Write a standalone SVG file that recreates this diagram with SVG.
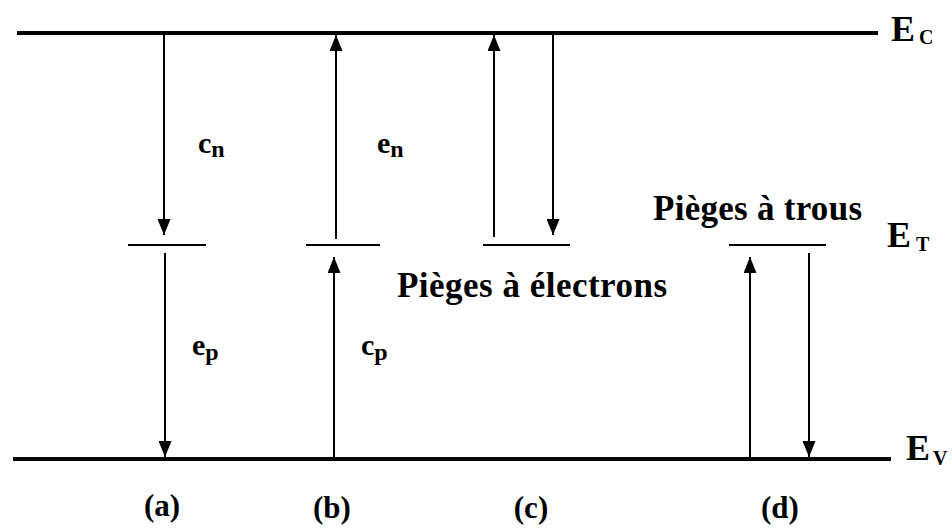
<svg xmlns="http://www.w3.org/2000/svg" width="952" height="528" viewBox="0 0 952 528">
<defs>
<style>
.band{stroke:#000;stroke-width:4;fill:none}
.trap{stroke:#000;stroke-width:2.2;fill:none}
.arr{stroke:#000;stroke-width:2;fill:none;marker-end:url(#ah)}
.lbl{font-size:36px}
.sub{font-size:20px}
.rate{font-size:30px}
.rs{font-size:24px}
.cap{font-size:31px;text-anchor:middle}
</style>
<marker id="ah" markerUnits="userSpaceOnUse" viewBox="0 0 16 13" markerWidth="16" markerHeight="13" refX="16" refY="6.5" orient="auto">
<path d="M0,0 L16,6.5 L0,13 z" fill="#000"/>
</marker>
</defs>
<rect width="952" height="528" fill="#fff"/>
<g font-family="'Liberation Serif', 'Times New Roman', serif" font-weight="bold" fill="#000">
<g id="bands">
<line class="band" x1="17" y1="33" x2="878" y2="33"/>
<line class="band" x1="13" y1="459" x2="891" y2="459"/>
<text class="lbl" x="891" y="41">E<tspan class="sub" dx="4" dy="3">C</tspan></text>
<text class="lbl" x="887" y="247">E<tspan class="sub" dx="5" dy="4">T</tspan></text>
<text class="lbl" x="906" y="460">E<tspan class="sub" dx="3" dy="5">V</tspan></text>
</g>
<g id="trap-a"><line class="trap" x1="128" y1="245" x2="206" y2="245"/></g>
<g id="trap-b"><line class="trap" x1="306" y1="245" x2="380" y2="245"/></g>
<g id="trap-c"><line class="trap" x1="483" y1="245" x2="570" y2="245"/></g>
<g id="trap-d"><line class="trap" x1="729" y1="245" x2="826" y2="245"/></g>
<g id="connectors">
<line class="arr" x1="164" y1="35" x2="164" y2="235"/>
<line class="arr" x1="165" y1="253" x2="165" y2="457"/>
<line class="arr" x1="336" y1="239" x2="336" y2="35"/>
<line class="arr" x1="334" y1="457" x2="334" y2="257"/>
<line class="arr" x1="494" y1="237" x2="494" y2="35"/>
<line class="arr" x1="553" y1="35" x2="553" y2="235"/>
<line class="arr" x1="750" y1="457" x2="750" y2="257"/>
<line class="arr" x1="809" y1="253" x2="809" y2="457"/>
</g>
<g id="labels">
<text class="rate" x="198" y="153">c<tspan class="rs" dy="4">n</tspan></text>
<text class="rate" x="377" y="153">e<tspan class="rs" dy="4">n</tspan></text>
<text class="rate" x="192" y="355">e<tspan class="rs" dy="5">p</tspan></text>
<text class="rate" x="361" y="355">c<tspan class="rs" dy="5">p</tspan></text>
<text x="397" y="297" font-size="35" textLength="270" lengthAdjust="spacing">Pièges à électrons</text>
<text x="653" y="220" font-size="35" textLength="209" lengthAdjust="spacing">Pièges à trous</text>
<text class="cap" x="162" y="516">(a)</text>
<text class="cap" x="332" y="518">(b)</text>
<text class="cap" x="531" y="518">(c)</text>
<text class="cap" x="780" y="518">(d)</text>
</g>
</g>
</svg>
